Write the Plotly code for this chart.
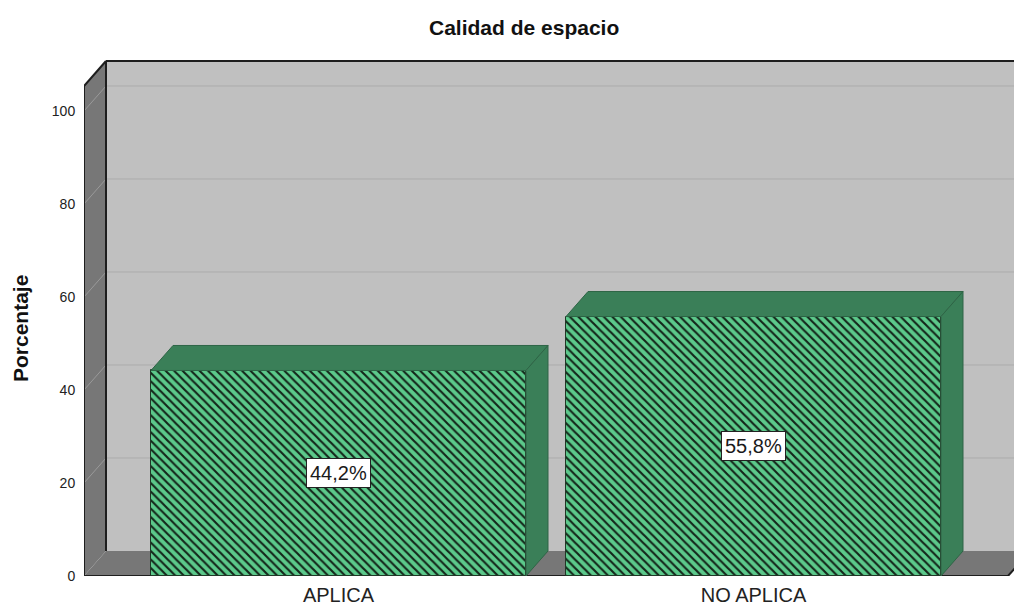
import plotly.graph_objects as go

# ---- data ----
categories = ["APLICA", "NO APLICA"]
percentages = [44.2, 55.8]
y_ticks = [0, 20, 40, 60, 80, 100]
title_text = "Calidad de espacio"
y_title = "Porcentaje"

# ---- geometry / style constants ----
W, H = 1014, 605
M_L, M_R, M_T, M_B = 84, 0, 60, 29
PX_PER_UNIT_Y = 4.65           # pixels per percentage point
PX_PER_CAT = 415.0             # pixels between category centres
CAT0_PX = 338.5                # pixel position of the first category centre
plot_w = W - M_L - M_R
plot_h = H - M_T - M_B
x_lo = -(CAT0_PX - M_L) / PX_PER_CAT
x_hi = x_lo + plot_w / PX_PER_CAT
y_hi = plot_h / PX_PER_UNIT_Y
DX = 22 / PX_PER_CAT            # depth offset (x, data units)
DY = 25 / PX_PER_UNIT_Y         # depth offset (y, data units)
BAR_W = 375 / PX_PER_CAT
WALL_TOP = y_hi - 1 / PX_PER_UNIT_Y
FLOOR_R = (1008 - CAT0_PX) / PX_PER_CAT

WALL_BACK = "#C0C0C0"
WALL_SIDE = "#777777"
EDGE = "#1E1E1E"
GREEN_FRONT = "#5CC98B"
GREEN_DARK = "#3A7F58"
FONT = "Arial, Liberation Sans, sans-serif"


def px_to_paper(px, py):
    return (px - M_L) / plot_w, (H - M_B - py) / plot_h


xs = list(range(len(categories)))

fig = go.Figure()

shapes = []
# back wall
shapes.append(dict(type="rect", xref="x", yref="y", x0=x_lo + DX, x1=x_hi + 1, y0=DY, y1=WALL_TOP,
                   fillcolor=WALL_BACK, line=dict(width=0), layer="below"))
# left wall
shapes.append(dict(type="path", xref="x", yref="y",
                   path=f"M{x_lo},0 L{x_lo+DX},{DY} L{x_lo+DX},{WALL_TOP} L{x_lo},{WALL_TOP-DY} Z",
                   fillcolor=WALL_SIDE, line=dict(width=0), layer="below"))
# floor
shapes.append(dict(type="path", xref="x", yref="y",
                   path=f"M{x_lo},0 L{x_lo+DX},{DY} L{FLOOR_R+DX},{DY} L{FLOOR_R},0 Z",
                   fillcolor=WALL_SIDE, line=dict(width=0), layer="below"))
# gridlines
for v in y_ticks[1:]:
    shapes.append(dict(type="line", xref="x", yref="y", x0=x_lo, y0=v, x1=x_lo + DX, y1=v + DY,
                       line=dict(color="#9A9A9A", width=1), layer="below"))
    shapes.append(dict(type="line", xref="x", yref="y", x0=x_lo + DX, y0=v + DY, x1=x_hi + 1, y1=v + DY,
                       line=dict(color="#ABABAB", width=1), layer="below"))
# dark edges
edges = [
    (x_lo, 0, x_lo, WALL_TOP - DY),
    (x_lo + DX, DY, x_lo + DX, WALL_TOP),
    (x_lo, WALL_TOP - DY, x_lo + DX, WALL_TOP),
    (x_lo + DX, WALL_TOP, x_hi + 1, WALL_TOP),
    (x_lo, 0, FLOOR_R, 0),
    (FLOOR_R, 0, FLOOR_R + DX, DY),
]
for x0, y0, x1, y1 in edges:
    shapes.append(dict(type="line", xref="x", yref="y", x0=x0, y0=y0, x1=x1, y1=y1,
                       line=dict(color=EDGE, width=2), layer="below"))

# bar front faces
fig.add_trace(go.Bar(
    x=xs, y=percentages, width=BAR_W,
    marker=dict(color=GREEN_FRONT,
                line=dict(color="#203826", width=1),
                pattern=dict(shape="\\", fgcolor="#14261A", bgcolor=GREEN_FRONT,
                             size=6, solidity=0.36, fillmode="replace")),
    hoverinfo="skip", showlegend=False,
))

# bar top and side faces
for c, v in zip(xs, percentages):
    l, r = c - BAR_W / 2, c + BAR_W / 2
    fig.add_trace(go.Scatter(
        x=[l, r, r + DX, l + DX, l], y=[v, v, v + DY, v + DY, v],
        mode="lines", fill="toself", fillcolor=GREEN_DARK,
        line=dict(color="#2E6546", width=1), hoverinfo="skip", showlegend=False))
    fig.add_trace(go.Scatter(
        x=[r, r + DX, r + DX, r, r], y=[0, DY, v + DY, v, 0],
        mode="lines", fill="toself", fillcolor=GREEN_DARK,
        line=dict(color="#2E6546", width=1), hoverinfo="skip", showlegend=False))

annotations = []
for c, v in zip(xs, percentages):
    annotations.append(dict(
        x=c, y=v / 2, xref="x", yref="y", showarrow=False,
        text=f"{v:.1f}".replace(".", ",") + "%",
        font=dict(family=FONT, size=20, color="#1A1A1A"),
        bgcolor="white", bordercolor="#222222", borderwidth=1, borderpad=3))

tx, ty = px_to_paper(524, 28)
annotations.append(dict(
    x=tx, y=ty, xref="paper", yref="paper", showarrow=False,
    text=f"<b>{title_text}</b>", font=dict(family=FONT, size=21, color="#111111"),
    xanchor="center", yanchor="middle"))
ax_, ay_ = px_to_paper(20, 329)
annotations.append(dict(
    x=ax_, y=ay_, xref="paper", yref="paper", showarrow=False,
    text=f"<b>{y_title}</b>", textangle=-90, font=dict(family=FONT, size=21, color="#111111"),
    xanchor="center", yanchor="middle"))

fig.update_layout(
    width=W, height=H,
    margin=dict(l=M_L, r=M_R, t=M_T, b=M_B, pad=0, autoexpand=False),
    paper_bgcolor="white", plot_bgcolor="white",
    shapes=shapes, annotations=annotations,
    xaxis=dict(range=[x_lo, x_hi], tickvals=xs, ticktext=categories, automargin=False,
               showgrid=False, zeroline=False, showline=False,
               ticks="outside", ticklen=1, tickcolor="rgba(0,0,0,0)",
               tickfont=dict(family=FONT, size=20, color="#222222"), fixedrange=True),
    yaxis=dict(range=[0, y_hi], tickvals=y_ticks, ticktext=[str(t) for t in y_ticks], automargin=False,
               showgrid=False, zeroline=False, showline=False,
               ticks="outside", ticklen=5, tickcolor="rgba(0,0,0,0)",
               tickfont=dict(family=FONT, size=14, color="#222222"), fixedrange=True),
    bargap=0,
)

fig.write_html("out.html")
